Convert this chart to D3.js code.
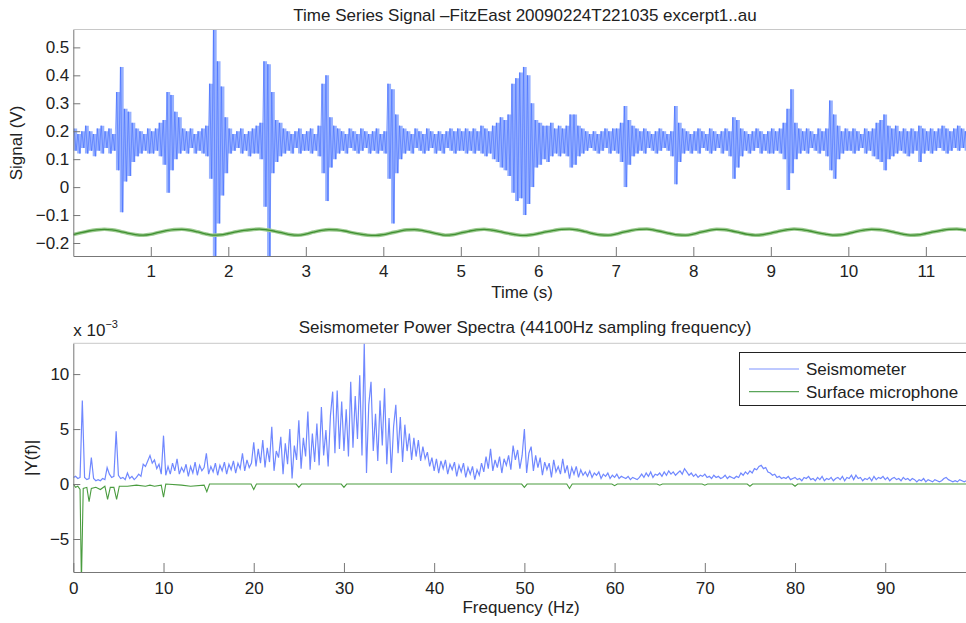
<!DOCTYPE html>
<html lang="en">
<head>
  <meta charset="UTF-8">
  <title>Seismometer signal</title>
  <script src="https://d3js.org/d3.v7.min.js"></script>
  <style>
    body { margin: 0; background: #fff; }
    svg { display: block; font-family: "Liberation Sans", Arial, sans-serif; }
    .tick text { font-size: 17px; fill: #222; }
  </style>
</head>
<body>
  <div id="root"></div>
  <script>
    // time series: seismometer min / max per 0.05 s bin (V)
    const binStep = 0.05
    const seisHigh = [
      0.21,0.19,0.20,0.22,0.20,0.19,0.21,0.22,0.20,0.21,0.19,0.34,0.43,0.28,0.27,0.23,0.21,0.20,0.19,0.21,
      0.20,0.21,0.23,0.24,0.34,0.33,0.27,0.25,0.21,0.20,0.21,0.19,0.20,0.21,0.22,0.37,0.57,0.45,0.36,0.25,
      0.21,0.19,0.20,0.21,0.19,0.20,0.21,0.22,0.23,0.45,0.44,0.34,0.24,0.23,0.21,0.20,0.19,0.20,0.21,0.19,
      0.20,0.21,0.19,0.22,0.37,0.40,0.25,0.22,0.21,0.20,0.19,0.21,0.20,0.19,0.21,0.20,0.19,0.20,0.21,0.19,
      0.20,0.37,0.35,0.26,0.22,0.21,0.20,0.19,0.21,0.20,0.19,0.21,0.20,0.19,0.20,0.19,0.20,0.21,0.20,0.21,
      0.20,0.21,0.20,0.21,0.20,0.22,0.21,0.20,0.22,0.23,0.25,0.24,0.26,0.37,0.39,0.41,0.43,0.40,0.30,0.24,
      0.23,0.22,0.22,0.23,0.21,0.22,0.21,0.22,0.26,0.26,0.22,0.21,0.20,0.19,0.20,0.19,0.20,0.21,0.20,0.21,
      0.21,0.23,0.29,0.24,0.22,0.21,0.20,0.21,0.20,0.19,0.20,0.21,0.20,0.19,0.20,0.29,0.23,0.21,0.20,0.19,
      0.20,0.21,0.20,0.19,0.21,0.20,0.19,0.20,0.21,0.20,0.25,0.24,0.21,0.20,0.19,0.20,0.21,0.20,0.19,0.20,
      0.21,0.20,0.21,0.23,0.28,0.35,0.23,0.21,0.20,0.21,0.20,0.19,0.21,0.20,0.21,0.31,0.26,0.22,0.20,0.21,
      0.20,0.21,0.20,0.19,0.21,0.20,0.21,0.23,0.24,0.26,0.22,0.21,0.22,0.20,0.21,0.20,0.21,0.20,0.22,0.21,
      0.20,0.21,0.20,0.21,0.22,0.21,0.20,0.21,0.22,0.21,0.20,0.21,0.22,0.21
    ]
    const seisLow = [
      0.13,0.12,0.14,0.12,0.13,0.11,0.13,0.12,0.14,0.12,0.13,0.06,-0.09,0.02,0.04,0.09,0.11,0.12,0.13,0.12,
      0.12,0.13,0.11,0.08,-0.02,0.06,0.10,0.12,0.13,0.12,0.14,0.12,0.13,0.12,0.11,0.03,-0.26,-0.13,-0.03,0.05,
      0.12,0.13,0.14,0.12,0.13,0.11,0.12,0.12,0.10,-0.07,-0.26,0.05,0.09,0.11,0.12,0.13,0.12,0.14,0.12,0.13,
      0.13,0.12,0.13,0.11,0.05,-0.05,0.07,0.10,0.12,0.13,0.12,0.14,0.13,0.12,0.13,0.14,0.12,0.13,0.12,0.13,
      0.12,0.03,-0.13,0.05,0.10,0.12,0.13,0.12,0.14,0.13,0.12,0.13,0.14,0.12,0.13,0.12,0.14,0.13,0.12,0.13,
      0.13,0.12,0.13,0.12,0.13,0.12,0.11,0.12,0.10,0.09,0.07,0.06,0.04,-0.02,-0.05,-0.04,-0.10,-0.06,0.00,0.07,
      0.08,0.10,0.09,0.11,0.12,0.11,0.12,0.11,0.07,0.08,0.11,0.12,0.13,0.14,0.13,0.12,0.13,0.14,0.12,0.13,
      0.12,0.09,0.00,0.08,0.11,0.12,0.13,0.12,0.14,0.13,0.12,0.13,0.14,0.13,0.11,0.01,0.09,0.12,0.13,0.12,
      0.13,0.12,0.14,0.13,0.12,0.13,0.14,0.12,0.13,0.11,0.03,0.07,0.11,0.13,0.12,0.13,0.14,0.12,0.13,0.12,
      0.12,0.13,0.12,0.10,-0.01,0.05,0.10,0.12,0.13,0.12,0.14,0.13,0.12,0.13,0.11,0.06,0.03,0.10,0.12,0.13,
      0.13,0.12,0.13,0.14,0.12,0.13,0.11,0.10,0.09,0.06,0.10,0.11,0.12,0.13,0.12,0.11,0.12,0.13,0.09,0.12,
      0.13,0.12,0.13,0.14,0.13,0.12,0.13,0.14,0.13,0.14,0.13,0.14,0.13,0.14
    ]

    // time series: surface microphone every 0.1 s (V)
    const micStep = 0.1
    const micSignal = [
      -0.170,-0.163,-0.157,-0.153,-0.151,-0.153,-0.158,-0.165,-0.170,-0.172,
      -0.169,-0.162,-0.156,-0.152,-0.151,-0.154,-0.160,-0.167,-0.172,-0.171,
      -0.166,-0.160,-0.155,-0.152,-0.150,-0.153,-0.158,-0.164,-0.170,-0.172,
      -0.168,-0.161,-0.155,-0.152,-0.153,-0.157,-0.163,-0.168,-0.172,-0.173,
      -0.170,-0.164,-0.158,-0.153,-0.152,-0.155,-0.161,-0.167,-0.172,-0.170,
      -0.164,-0.158,-0.153,-0.151,-0.154,-0.159,-0.165,-0.170,-0.173,-0.171,
      -0.166,-0.160,-0.155,-0.151,-0.150,-0.153,-0.159,-0.166,-0.171,-0.172,
      -0.168,-0.161,-0.155,-0.151,-0.150,-0.154,-0.160,-0.166,-0.171,-0.172,
      -0.168,-0.161,-0.155,-0.151,-0.152,-0.157,-0.163,-0.169,-0.172,-0.170,
      -0.165,-0.158,-0.153,-0.150,-0.152,-0.157,-0.163,-0.168,-0.172,-0.171,
      -0.166,-0.159,-0.154,-0.151,-0.152,-0.156,-0.162,-0.168,-0.172,-0.171,
      -0.166,-0.160,-0.155,-0.151,-0.150,-0.153,-0.157
    ]

    // spectrum: seismometer |Y(f)| every 0.25 Hz (x 10^-3)
    const specStep = 0.25
    const seisSpectrum = [
      0.6,0.7,0.5,0.6,7.6,0.6,0.4,0.5,2.4,0.5,0.3,0.4,0.3,0.5,0.4,1.5,0.9,0.6,0.7,4.8,
      0.8,0.5,0.6,0.4,1.0,0.5,0.7,0.4,0.6,0.9,0.7,1.8,1.6,2.1,2.6,1.9,2.2,1.4,1.8,0.9,
      4.4,0.8,1.6,0.9,1.9,1.2,2.3,0.9,1.5,1.1,1.8,0.7,1.6,1.0,2.0,0.8,1.7,1.2,1.5,2.8,
      0.9,1.6,1.1,1.9,0.8,1.7,1.2,2.0,0.9,1.8,1.3,2.1,1.0,1.9,1.4,2.8,1.2,2.2,1.5,1.9,
      3.8,1.6,3.2,1.9,4.0,1.5,3.3,2.0,5.2,1.2,3.0,2.4,4.3,0.9,3.7,1.8,5.0,0.5,3.5,2.2,
      5.8,1.4,4.2,2.5,6.6,1.3,4.6,2.0,5.5,1.7,7.0,2.6,4.9,1.6,6.2,8.4,2.8,8.5,3.2,7.5,
      3.0,6.8,2.5,9.3,3.3,8.0,4.1,9.9,2.6,12.8,1.0,7.2,9.3,3.0,6.4,2.1,7.6,3.5,8.7,1.8,
      6.0,1.0,5.2,7.2,2.8,6.1,2.0,5.4,3.0,4.6,2.2,4.2,2.5,4.0,2.1,3.4,2.3,2.9,1.6,2.4,
      1.2,2.3,1.0,2.1,1.4,2.2,0.9,1.8,1.3,2.0,0.7,1.7,1.1,1.9,0.6,1.5,0.9,1.6,0.4,1.3,
      0.8,1.9,1.1,2.5,1.4,3.2,1.2,2.2,1.5,2.5,1.0,2.3,1.7,2.6,1.3,3.5,2.2,3.1,1.4,2.6,
      5.0,1.0,2.8,3.4,1.2,2.6,1.5,2.4,0.8,2.0,1.3,1.9,0.6,2.2,1.1,1.6,0.9,2.3,1.0,1.7,
      0.5,1.5,0.9,1.6,0.6,1.3,0.8,1.1,0.7,1.2,0.6,1.0,0.8,1.1,0.5,0.9,0.7,1.0,0.5,0.8,
      0.6,0.9,0.5,0.7,0.6,0.5,0.7,0.4,0.6,0.5,0.4,0.6,0.9,0.6,1.0,0.7,1.1,0.6,0.9,0.8,
      1.0,0.7,1.1,0.8,1.2,0.9,1.1,0.8,1.0,1.2,0.9,1.4,1.1,0.8,1.0,0.7,0.9,0.6,0.8,0.7,
      0.9,0.6,0.7,0.5,0.8,0.6,0.7,0.5,0.6,0.8,0.5,0.7,0.6,0.5,0.7,0.6,1.0,0.8,1.1,0.9,
      1.2,1.0,1.4,1.3,1.6,1.7,1.4,1.5,1.1,1.0,0.8,0.9,0.6,0.7,0.5,0.6,0.5,0.7,0.4,0.5,
      0.6,0.4,0.5,0.3,0.6,0.5,0.7,0.4,0.5,0.3,0.6,0.4,0.7,0.3,0.5,0.4,0.6,0.3,0.5,0.6,
      0.4,0.7,0.3,0.6,0.5,0.8,0.4,0.8,0.5,0.6,0.3,0.5,0.4,0.6,0.3,0.7,0.4,0.6,0.5,0.7,
      0.4,0.6,0.3,0.5,0.6,0.4,0.5,0.3,0.6,0.4,0.5,0.3,0.5,0.4,0.2,0.4,0.3,0.5,0.2,0.4,
      0.3,0.2,0.4,0.3,0.2,0.3,0.5,0.6,0.4,0.3,0.2,0.3,0.2,0.4,0.3,0.2,0.3,0.2,0.3,0.2
    ]

    // spectrum: surface microphone (drawn negative), frequency / value pairs
    const micSpecFreq = [0,0.25,0.5,0.75,0.9,1.1,1.5,1.75,2.0,2.5,3.0,3.5,3.8,4.1,4.5,4.8,5.1,6,7,8,8.5,9,9.75,10,10.25,
      12,13,14.5,14.8,15.1,19.7,20,20.3,24.7,25,25.3,29.7,30,30.3,49.7,50,50.3,54.7,55,55.3,59.7,60,60.3,
      64.7,65,65.3,69.7,70,70.3,74.7,75,75.3,79.7,80,80.3,100]
    const micSpecValue = [0,-0.3,-0.2,-0.5,-9,-0.4,-0.3,-1.6,-0.4,-0.3,-0.5,-0.2,-1.4,-0.3,-0.3,-1.4,-0.2,-0.2,-0.1,-0.2,-0.1,-0.2,-0.1,-1.2,0,
      -0.1,-0.2,-0.1,-0.7,0,0,-0.5,0,0,-0.3,0,0,-0.3,0,0,-0.3,0,0,-0.4,0,0,-0.15,0,
      0,-0.1,0,0,-0.1,0,0,-0.2,0,0,-0.2,0,0]

    const timeTicks = [1, 2, 3, 4, 5, 6, 7, 8, 9, 10, 11]
    const signalTicks = [-0.2, -0.1, 0, 0.1, 0.2, 0.3, 0.4, 0.5]
    const freqTicks = [0, 10, 20, 30, 40, 50, 60, 70, 80, 90]
    const powerTicks = [-5, 0, 5, 10]
    const legendLabels = ['Seismometer', 'Surface microphone']

    const width = 966
    const height = 623
    const left = 73.3
    const right = 977
    const top1 = { top: 29.5, bottom: 256 }
    const bot1 = { top: 343.3, bottom: 572 }

    const svg = d3.select('#root')
      .append('svg')
        .attr('width', width)
        .attr('height', height)

    const xTime = d3.scaleLinear().domain([0, 11.66]).range([left, right])
    const ySig = d3.scaleLinear().domain([-0.2465, 0.564]).range([top1.bottom, top1.top])
    const xFreq = d3.scaleLinear().domain([0, 100.17]).range([left, right])
    const yPow = d3.scaleLinear().domain([-8, 12.8]).range([bot1.bottom, bot1.top])

    function clipRect(id, box) {
      svg.append('clipPath').attr('id', id)
        .append('rect')
          .attr('x', left).attr('y', box.top)
          .attr('width', right - left).attr('height', box.bottom - box.top)
    }
    clipRect('clipTop', top1)
    clipRect('clipBot', bot1)

    // ---------- top panel ----------
    const gTop = svg.append('g').attr('clip-path', 'url(#clipTop)')

    const bins = seisHigh.map((h, i) => ({ t: i * binStep, hi: h, lo: seisLow[i] }))

    // min-max band of the dense signal
    gTop.append('path')
      .attr('d', d3.area().curve(d3.curveStepAfter)
        .x(d => xTime(d.t)).y0(d => ySig(d.lo)).y1(d => ySig(d.hi))(bins))
      .attr('fill', '#97b1ff')

    // the trace itself, swinging between the bin extremes
    const zig = []
    bins.forEach(d => {
      zig.push([d.t + binStep * 0.2, d.hi])
      zig.push([d.t + binStep * 0.7, d.lo])
    })
    gTop.append('path')
      .attr('d', d3.line().x(d => xTime(d[0])).y(d => ySig(d[1]))(zig))
      .attr('fill', 'none')
      .attr('stroke', '#3864ff')
      .attr('stroke-width', 1)
      .attr('opacity', 0.5)

    const micLine = d3.line()
      .x((d, i) => xTime(i * micStep))
      .y(d => ySig(d))
      .curve(d3.curveMonotoneX)
    gTop.append('path')
      .attr('d', micLine(micSignal))
      .attr('fill', 'none')
      .attr('stroke', '#9ccb90')
      .attr('stroke-width', 3.6)
    gTop.append('path')
      .attr('d', micLine(micSignal))
      .attr('fill', 'none')
      .attr('stroke', '#3f8f30')
      .attr('stroke-width', 1.3)

    // ---------- bottom panel ----------
    const gBot = svg.append('g').attr('clip-path', 'url(#clipBot)')

    gBot.append('path')
      .attr('d', d3.line().x((d, i) => xFreq(i * specStep)).y(d => yPow(d))(seisSpectrum))
      .attr('fill', 'none')
      .attr('stroke', '#7088ff')
      .attr('stroke-width', 1.2)

    gBot.append('path')
      .attr('d', d3.line().x(d => xFreq(d)).y((d, i) => yPow(micSpecValue[i]))(micSpecFreq))
      .attr('fill', 'none')
      .attr('stroke', '#4a9c3f')
      .attr('stroke-width', 1.1)

    // ---------- axes ----------
    function drawAxes(box, xScale, yScale, xTicks, yTicks, yFmt, pad) {
      svg.append('line')
        .attr('x1', left).attr('x2', right)
        .attr('y1', box.top).attr('y2', box.top)
        .attr('stroke', '#c8c8c8')

      const xa = svg.append('g')
        .attr('transform', `translate(0,${box.bottom})`)
        .call(d3.axisBottom(xScale).tickValues(xTicks).tickSizeInner(-9).tickSizeOuter(0).tickPadding(pad))
      const ya = svg.append('g')
        .attr('transform', `translate(${left},0)`)
        .call(d3.axisLeft(yScale).tickValues(yTicks).tickSizeInner(-7).tickSizeOuter(0).tickPadding(4).tickFormat(yFmt))
      for (const a of [xa, ya]) {
        a.select('.domain').attr('stroke', '#777')
        a.selectAll('.tick line').attr('stroke', '#777')
        a.attr('font-family', null).attr('font-size', null)
      }
    }
    drawAxes(top1, xTime, ySig, timeTicks, signalTicks, d3.format('~g'), 9)
    drawAxes(bot1, xFreq, yPow, freqTicks, powerTicks, d3.format('d'), 10)

    // ---------- text ----------
    const label = (x, y, txt, rot) => svg.append('text')
      .attr('x', x).attr('y', y)
      .attr('text-anchor', 'middle')
      .attr('font-size', 17)
      .attr('fill', '#222')
      .attr('transform', rot ? `rotate(-90,${x},${y})` : null)
      .text(txt)

    label(525, 21, 'Time Series Signal \u2013FitzEast 20090224T221035 excerpt1..au')
    label(522, 298, 'Time (s)')
    label(22, 143, 'Signal (V)', true)
    label(525, 333, 'Seismometer Power Spectra (44100Hz sampling frequency)')
    label(521, 613, 'Frequency (Hz)')
    label(37, 458, '|Y(f)|', true)

    const exp = svg.append('text')
      .attr('x', left).attr('y', 336)
      .attr('font-size', 17)
      .attr('fill', '#222')
    exp.append('tspan').text('x 10')
    exp.append('tspan').attr('font-size', 11).attr('dy', -8).text('\u22123')

    // ---------- legend ----------
    const legend = svg.append('g')
    legend.append('rect')
      .attr('x', 739.5).attr('y', 352.5)
      .attr('width', 230).attr('height', 53)
      .attr('fill', '#fff')
      .attr('stroke', '#222')
    const legendColors = ['#7f93ff', '#5aa55a']
    legendLabels.forEach((name, i) => {
      const y = 369 + i * 22.7
      legend.append('line')
        .attr('x1', 749).attr('x2', 799)
        .attr('y1', y).attr('y2', y)
        .attr('stroke', legendColors[i])
        .attr('stroke-width', 1.2)
      legend.append('text')
        .attr('x', 806).attr('y', y)
        .attr('dy', '0.35em')
        .attr('font-size', 17)
        .attr('fill', '#222')
        .text(name)
    })
  </script>
</body>
</html>
